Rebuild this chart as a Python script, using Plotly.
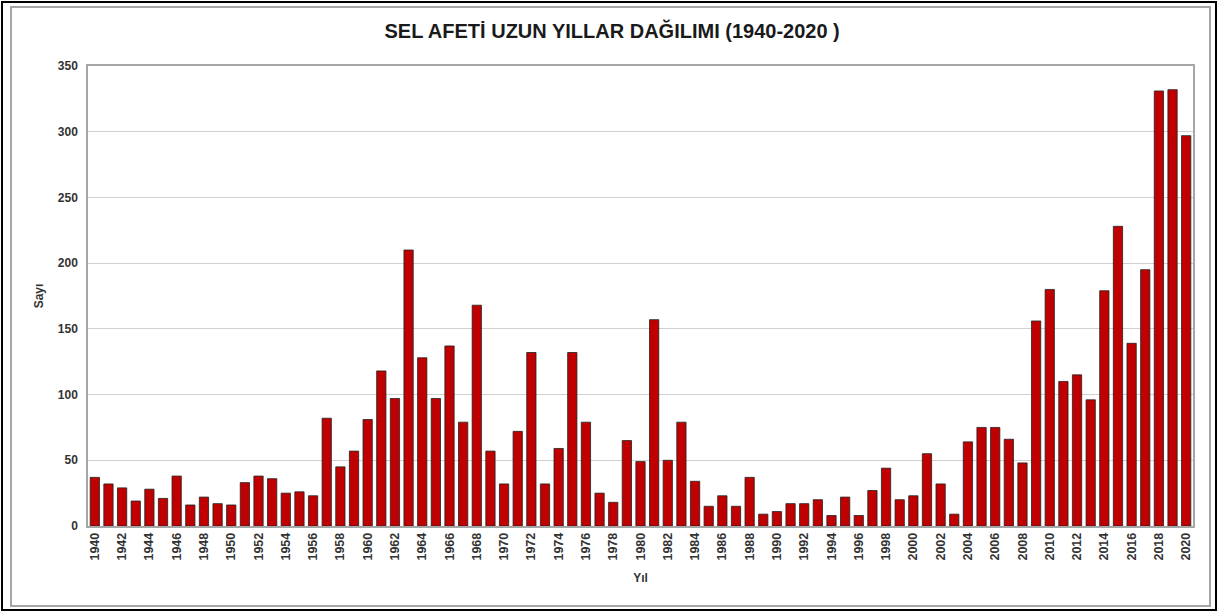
import plotly.graph_objects as go

years = list(range(1940, 2021))
counts = [
    37, 32, 29, 19, 28, 21, 38, 16, 22, 17,   # 1940-1949
    16, 33, 38, 36, 25, 26, 23, 82, 45, 57,   # 1950-1959
    81, 118, 97, 210, 128, 97, 137, 79, 168, 57,  # 1960-1969
    32, 72, 132, 32, 59, 132, 79, 25, 18, 65,  # 1970-1979
    49, 157, 50, 79, 34, 15, 23, 15, 37, 9,   # 1980-1989
    11, 17, 17, 20, 8, 22, 8, 27, 44, 20,     # 1990-1999
    23, 55, 32, 9, 64, 75, 75, 66, 48, 156,   # 2000-2009
    180, 110, 115, 96, 179, 228, 139, 195, 331, 332,  # 2010-2019
    297,                                      # 2020
]
tick_years = years[::2]

title_text = "SEL AFETİ UZUN YILLAR DAĞILIMI (1940-2020 )"
font_family = "Arial, Liberation Sans, sans-serif"
label_color = "#333333"

fig = go.Figure()
fig.add_trace(go.Bar(
    x=years,
    y=counts,
    marker=dict(color="#c00000", line=dict(color="#222222", width=0.8)),
    width=0.68,
    showlegend=False,
))

fig.update_layout(
    width=1217,
    height=612,
    paper_bgcolor="white",
    plot_bgcolor="white",
    margin=dict(l=88, r=24, t=66, b=86),
    title=dict(
        text=title_text,
        x=0.503, xref="container", xanchor="center",
        y=0.949, yref="container", yanchor="middle",
        font=dict(family=font_family, size=20, color="#1a1a1a", weight="bold"),
    ),
    font=dict(family=font_family),
)

fig.update_xaxes(
    range=[1939.5, 2020.5],
    tickmode="array",
    tickvals=tick_years,
    ticktext=[str(y) for y in tick_years],
    tickangle=-90,
    tickfont=dict(size=12.5, color=label_color, weight="bold"),
    showgrid=False,
    showline=True,
    linecolor="#a6a6a6",
    linewidth=1.5,
    mirror=True,
    zeroline=False,
    title=dict(text="Yıl", font=dict(size=12, color=label_color, weight="bold"), standoff=14),
)
fig.update_yaxes(
    range=[0, 350],
    dtick=50,
    tickfont=dict(size=12, color=label_color, weight="bold"),
    showgrid=True,
    gridcolor="#d0d0d0",
    gridwidth=1,
    showline=True,
    linecolor="#a6a6a6",
    linewidth=1.5,
    mirror=True,
    zeroline=False,
    ticklabelstandoff=6,
    title=dict(text="Sayı", font=dict(size=12, color=label_color, weight="bold"), standoff=12),
)

# double frame around the chart (outer black, inner grey)
fig.add_shape(type="rect", xref="paper", yref="paper",
              x0=-86 / 1105, x1=1 + 23 / 1105,
              y0=-84 / 460, y1=1 + 64 / 460,
              line=dict(color="#000000", width=2), layer="above")
fig.add_shape(type="rect", xref="paper", yref="paper",
              x0=-77 / 1105, x1=1 + 17 / 1105,
              y0=-80 / 460, y1=1 + 59 / 460,
              line=dict(color="#a6a6a6", width=2), layer="above")

fig.write_html("out.html", config={"displayModeBar": False},
               post_script="document.body.style.margin='0';")
